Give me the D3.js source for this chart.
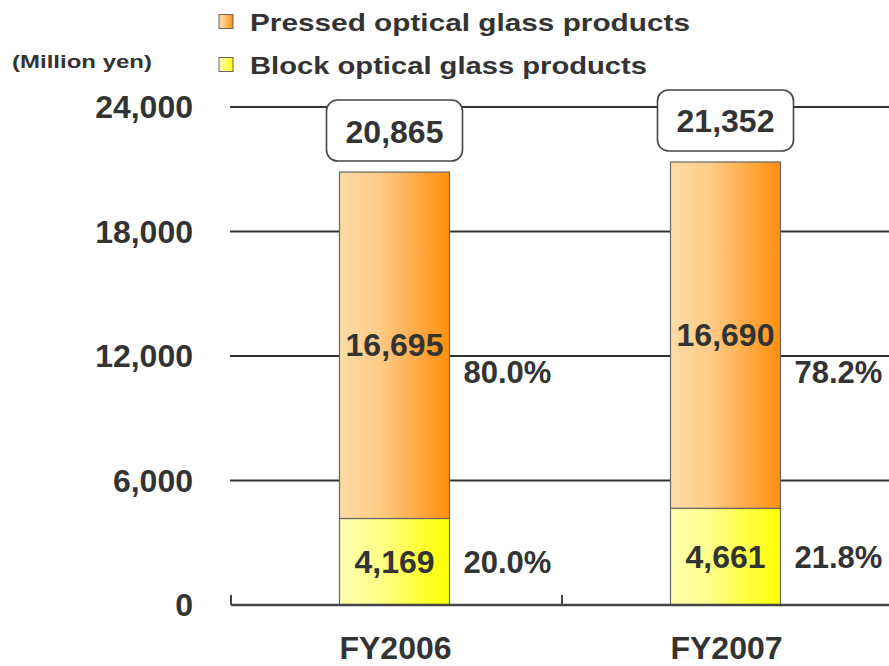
<!DOCTYPE html>
<html><head><meta charset="utf-8">
<script src="https://cdn.jsdelivr.net/npm/d3@7"></script>
<style>body{margin:0;background:#fff}svg{display:block}text{font-family:"Liberation Sans",Arial,sans-serif;font-weight:bold;fill:#333}</style>
</head><body><svg id="c" width="889" height="666"></svg>
<script>
const categories = ["FY2006", "FY2007"];
const blockValues = [4169, 4661];
const pressedValues = [16695, 16690];
const totals = [20865, 21352];
const blockPct = ["20.0%", "21.8%"];
const pressedPct = ["80.0%", "78.2%"];
const yTicks = [0, 6000, 12000, 18000, 24000];
const seriesNames = ["Pressed optical glass products", "Block optical glass products"];
const unitLabel = "(Million yen)";

const svg = d3.select("#c");
const defs = svg.append("defs");
function grad(id, c0, c1) {
  const g = defs.append("linearGradient").attr("id", id).attr("x1", "0").attr("x2", "1").attr("y1", "0").attr("y2", "0");
  g.append("stop").attr("offset", "0").attr("stop-color", c0);
  g.append("stop").attr("offset", "0.35").attr("stop-color", d3.interpolateRgb(c0, c1)(0.2));
  g.append("stop").attr("offset", "1").attr("stop-color", c1);
}
grad("gP", "#ffdca6", "#ff8e0e");
grad("gB", "#ffffae", "#ffff00");

const y = d3.scaleLinear().domain([0, 24000]).range([605, 107]);
const x = d3.scaleBand().domain(categories).range([231, 893]).padding(0);
const bw = 110;
const cx = c => x(c) + x.bandwidth() / 2 - 2;
const fmt = d3.format(",");

// gridlines
svg.append("g").selectAll("line").data(yTicks.filter(d => d > 0)).join("line")
  .attr("x1", 230).attr("x2", 889).attr("y1", d => y(d)).attr("y2", d => y(d))
  .attr("stroke", "#333").attr("stroke-width", 2);

// tick labels
svg.append("g").selectAll("text").data(yTicks).join("text")
  .attr("x", 193).attr("y", d => y(d) + 11).attr("text-anchor", "end")
  .attr("font-size", 32).text(d => fmt(d));

// bars
const g = svg.append("g");
categories.forEach((c, i) => {
  const x0 = cx(c) - bw / 2;
  g.append("rect").attr("x", x0).attr("width", bw)
    .attr("y", y(blockValues[i])).attr("height", y(0) - y(blockValues[i]))
    .attr("fill", "url(#gB)").attr("stroke", "#666").attr("stroke-width", 1.2);
  const top = blockValues[i] + pressedValues[i];
  g.append("rect").attr("x", x0).attr("width", bw)
    .attr("y", y(top)).attr("height", y(blockValues[i]) - y(top))
    .attr("fill", "url(#gP)").attr("stroke", "#666").attr("stroke-width", 1.2);
  // segment labels
  g.append("text").attr("x", cx(c)).attr("y", (y(0) + y(blockValues[i])) / 2 + 11)
    .attr("text-anchor", "middle").attr("font-size", 32).text(fmt(blockValues[i]));
  g.append("text").attr("x", cx(c)).attr("y", (y(blockValues[i]) + y(top)) / 2 + 11)
    .attr("text-anchor", "middle").attr("font-size", 32).text(fmt(pressedValues[i]));
  // percentages
  g.append("text").attr("x", x0 + bw + 14).attr("y", (y(0) + y(blockValues[i])) / 2 + 11)
    .attr("font-size", 31).text(blockPct[i]);
  g.append("text").attr("x", x0 + bw + 14).attr("y", y(12000) + 27)
    .attr("font-size", 31).text(pressedPct[i]);
  // total box
  const bt = y(totals[i]) - 11;
  g.append("rect").attr("x", cx(c) - 68).attr("y", bt - 61).attr("width", 136).attr("height", 61)
    .attr("rx", 11).attr("fill", "#fff").attr("stroke", "#444").attr("stroke-width", 1.6);
  g.append("text").attr("x", cx(c)).attr("y", bt - 30.5 + 12)
    .attr("text-anchor", "middle").attr("font-size", 32).text(fmt(totals[i]));
});

// x axis baseline and ticks
svg.append("line").attr("x1", 231).attr("x2", 889).attr("y1", 605).attr("y2", 605)
  .attr("stroke", "#444").attr("stroke-width", 2.5);
const tickXs = categories.map(c => x(c));
svg.append("g").selectAll("line").data(tickXs).join("line")
  .attr("x1", d => d).attr("x2", d => d).attr("y1", 605).attr("y2", 595)
  .attr("stroke", "#444").attr("stroke-width", 2);

// category labels
svg.append("g").selectAll("text").data(categories).join("text")
  .attr("x", c => cx(c) + 1).attr("y", 659).attr("text-anchor", "middle")
  .attr("font-size", 32).text(c => c);

// legend
const legFills = ["url(#gP)", "url(#gB)"];
const legY = [22, 65];
const legLen = [440, 397];
seriesNames.forEach((s, i) => {
  svg.append("rect").attr("x", 219).attr("y", legY[i] - 7.5).attr("width", 14).attr("height", 14)
    .attr("fill", legFills[i]).attr("stroke", "#666").attr("stroke-width", 1);
  svg.append("text").attr("x", 250).attr("y", legY[i] + 9).attr("font-size", 24)
    .attr("textLength", legLen[i]).attr("lengthAdjust", "spacingAndGlyphs").text(s);
});
svg.append("text").attr("x", 12).attr("y", 68).attr("font-size", 18)
  .attr("textLength", 140).attr("lengthAdjust", "spacingAndGlyphs").text(unitLabel);
</script></body></html>
